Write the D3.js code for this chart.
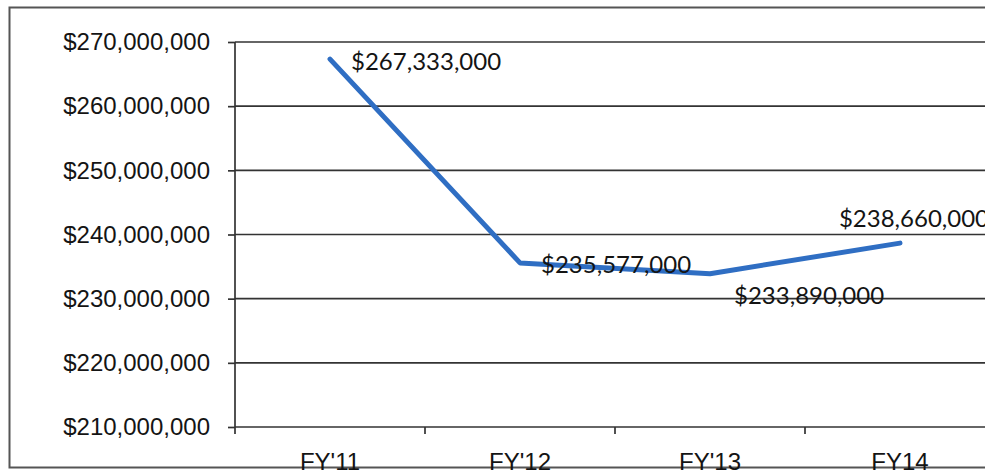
<!DOCTYPE html>
<html>
<head>
<meta charset="utf-8">
<script src="https://cdn.jsdelivr.net/npm/d3@7"></script>
<style>
  body { margin: 0; background: #fff; }
  svg { display: block; font-family: Lato, "Open Sans", sans-serif; }
  .axis path, .axis line { stroke: #333; stroke-width: 1.7; }
  .grid line { stroke: #333; stroke-width: 1.7; }
  .axis text, .label { fill: #141414; font-size: 24px; }
</style>
</head>
<body>
<svg id="chart"></svg>
<script>
// values
var years = ["FY'11", "FY'12", "FY'13", "FY14"];
var budget = [267333000, 235577000, 233890000, 238660000];
var yTicks = [210000000, 220000000, 230000000, 240000000, 250000000, 260000000, 270000000];
var labelPlace = ["right", "right", "below", "above"];

var W = 985, H = 472;
var margin = {top: 42, left: 235, bottom: 45};
var plotH = H - margin.top - margin.bottom;

var svg = d3.select("#chart")
    .attr("width", W)
    .attr("height", H);

// outer frame (right side runs off the page)
svg.append("rect")
    .attr("x", 9.5).attr("y", 7.5)
    .attr("width", W + 20).attr("height", 460)
    .attr("fill", "none")
    .attr("stroke", "#555")
    .attr("stroke-width", 2);

var x = d3.scaleBand()
    .domain(years)
    .range([margin.left, margin.left + 4 * 190])
    .paddingInner(0).paddingOuter(0);

var y = d3.scaleLinear()
    .domain([210000000, 270000000])
    .range([margin.top + plotH, margin.top]);

var fmt = function (d) { return "$" + d3.format(",")(d); };

// gridlines
svg.append("g")
    .attr("class", "grid")
    .selectAll("line")
    .data(yTicks.slice(1))
    .enter().append("line")
    .attr("x1", margin.left).attr("x2", W)
    .attr("y1", function (d) { return y(d); })
    .attr("y2", function (d) { return y(d); });

var yAxis = d3.axisLeft(y)
    .tickValues(yTicks)
    .tickSize(7)
    .tickPadding(18)
    .tickFormat(fmt);

svg.append("g")
    .attr("class", "axis y")
    .attr("transform", "translate(" + margin.left + ",0)")
    .call(yAxis)
    .call(function (g) { g.select(".domain").attr("d", "M0," + y(270000000) + "V" + y(210000000)); });

var xAxis = d3.axisBottom(x)
    .tickSize(0)
    .tickPadding(26);

var gx = svg.append("g")
    .attr("class", "axis x")
    .attr("transform", "translate(0," + y(210000000) + ")")
    .call(xAxis);
gx.select(".domain").attr("d", "M" + margin.left + ",0H" + W);

// category separator ticks
gx.selectAll(".sep")
    .data(years)
    .enter().append("line")
    .attr("class", "sep")
    .attr("x1", function (d) { return x(d); })
    .attr("x2", function (d) { return x(d); })
    .attr("y1", 0).attr("y2", 7);

var line = d3.line()
    .x(function (d, i) { return x(years[i]) + x.bandwidth() / 2; })
    .y(function (d) { return y(d); });

svg.append("path")
    .datum(budget)
    .attr("fill", "none")
    .attr("stroke", "#2f6ec3")
    .attr("stroke-width", 5)
    .attr("stroke-linejoin", "round")
    .attr("stroke-linecap", "round")
    .attr("d", line);

svg.selectAll(".label")
    .data(budget)
    .enter().append("text")
    .attr("class", "label")
    .attr("x", function (d, i) {
        var cx = x(years[i]) + x.bandwidth() / 2;
        if (labelPlace[i] === "above") return cx + 14;
        if (labelPlace[i] === "below") return cx + 24;
        return cx + 21;
    })
    .attr("y", function (d, i) {
        var cy = y(d);
        if (labelPlace[i] === "above") return cy - 24;
        if (labelPlace[i] === "below") return cy + 22;
        return cy + 2;
    })
    .attr("dy", "0.35em")
    .attr("text-anchor", function (d, i) { return labelPlace[i] === "above" ? "middle" : "start"; })
    .text(fmt);
</script>
</body>
</html>
